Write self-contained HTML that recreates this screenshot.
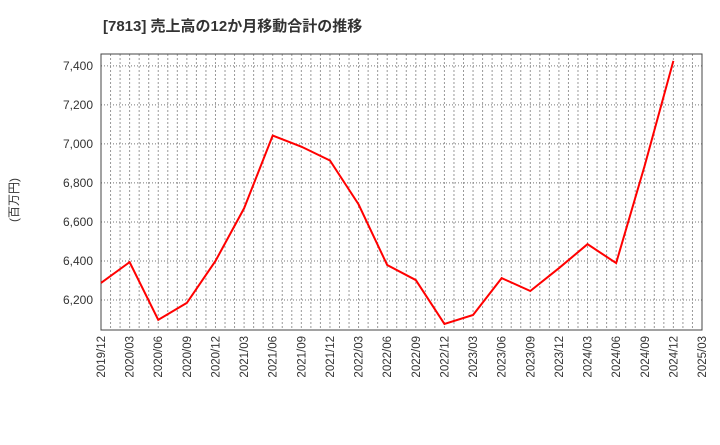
<!DOCTYPE html>
<html><head><meta charset="utf-8"><style>
body{margin:0;background:#fff;font-family:"Liberation Sans","Noto Sans CJK JP",sans-serif}
</style></head><body>
<svg id="c" width="720" height="440" xmlns="http://www.w3.org/2000/svg">
<text x="103" y="31" font-size="15" font-weight="bold" fill="#333" font-family="Liberation Sans,Noto Sans CJK JP,sans-serif">[7813]  売上高の12か月移動合計の推移</text>
<text transform="translate(18,200) rotate(-90)" text-anchor="middle" font-size="12" fill="#333" font-family="Liberation Sans,Noto Sans CJK JP,sans-serif">(百万円)</text>
</svg>
<script>
const categories=["2019/12","2020/03","2020/06","2020/09","2020/12","2021/03","2021/06","2021/09","2021/12","2022/03","2022/06","2022/09","2022/12","2023/03","2023/06","2023/09","2023/12","2024/03","2024/06","2024/09","2024/12","2025/03"];
const values=[6287,6394,6098,6185,6400,6670,7043,6986,6915,6690,6379,6302,6077,6123,6312,6246,6363,6486,6389,6890,7426];
const yTicks=[6200,6400,6600,6800,7000,7200,7400];
const svg=document.getElementById('c');const NS='http://www.w3.org/2000/svg';
const L=101,R=702,T=54,B=330,ymin=6046,ymax=7461;
const x=i=>L+(R-L)*i/(categories.length-1);
const y=v=>B-(v-ymin)/(ymax-ymin)*(B-T);
function el(t,a){const e=document.createElementNS(NS,t);for(const k in a)e.setAttribute(k,a[k]);svg.appendChild(e);return e;}
const nm=(categories.length-1)*3;
for(let m=1;m<nm;m++){const xx=L+(R-L)*m/nm;const g=el('line',{x1:xx,x2:xx,y1:T,y2:B,stroke:'#999','stroke-dasharray':'2,2','stroke-width':1});

}
yTicks.forEach(v=>{const g=el('line',{x1:L,x2:R,y1:y(v),y2:y(v),stroke:'#777','stroke-dasharray':'1,2','stroke-width':1});


const t=el('text',{x:L-8,y:y(v)+4,'text-anchor':'end','font-size':12,fill:'#333'});t.textContent=v.toLocaleString('en-US');

});
categories.forEach((c,i)=>{const t=el('text',{transform:`translate(${x(i)+4},${B+6}) rotate(-90)`,'text-anchor':'end','font-size':11.5,fill:'#333'});t.textContent=c;

});
const f=el('rect',{x:L,y:T,width:R-L,height:B-T,fill:'none',stroke:'#444','stroke-width':1});


const p=el('polyline',{points:values.map((v,i)=>x(i)+','+y(v)).join(' '),fill:'none',stroke:'#f00','stroke-width':2});


</script>
</body></html>
